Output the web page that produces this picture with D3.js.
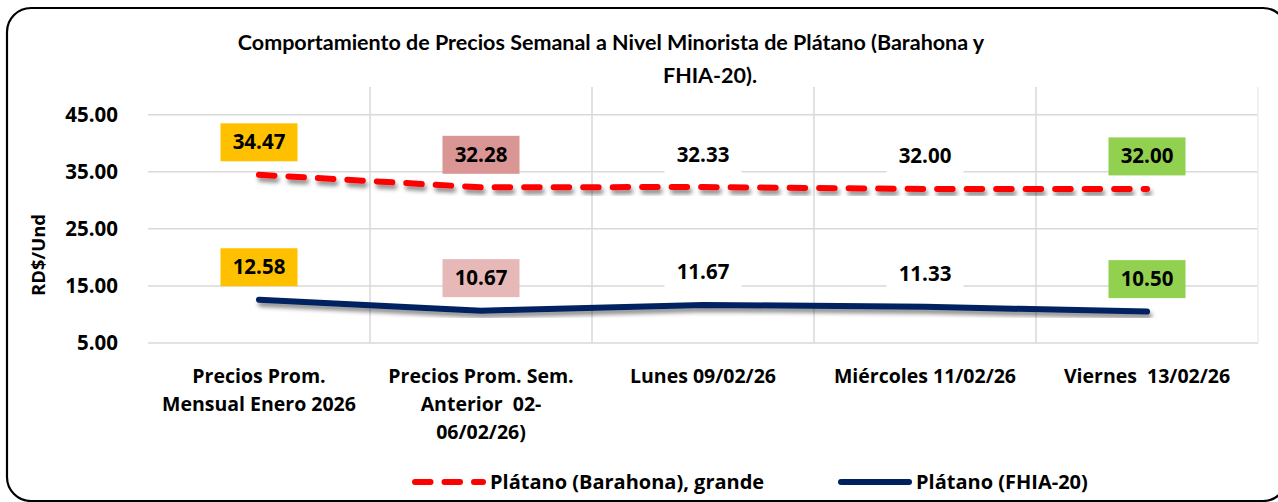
<!DOCTYPE html>
<html>
<head>
<meta charset="utf-8">
<script src="https://cdn.jsdelivr.net/npm/d3@7"></script>
<style>
  body { margin: 0; background: #fff; }
  text { font-family: "Open Sans", Lato, sans-serif; font-weight: bold; fill: #000; white-space: pre; }
  text.title { font-family: Lato, "Open Sans", sans-serif; }
</style>
</head>
<body>
<div id="chart"></div>
<script>
// data
const categories = [
  ["Precios Prom.", "Mensual Enero 2026"],
  ["Precios Prom. Sem.", "Anterior  02-", "06/02/26)"],
  ["Lunes 09/02/26"],
  ["Miércoles 11/02/26"],
  ["Viernes  13/02/26"]
];
const barahona = [34.47, 32.28, 32.33, 32.00, 32.00];
const fhia = [12.58, 10.67, 11.67, 11.33, 10.50];
const yTicks = [5, 15, 25, 35, 45];
const barahonaFills = ["#FFC000", "#DA9694", "#FFFFFF", "#FFFFFF", "#92D050"];
const fhiaFills = ["#FFC000", "#E6B8B7", "#FFFFFF", "#FFFFFF", "#92D050"];
const seriesNames = ["Plátano (Barahona), grande", "Plátano (FHIA-20)"];

const W = 1278, H = 502;
const plot = {left: 148, right: 1258, top: 87, y45: 114.7, bottom: 343};

const svg = d3.select("#chart").append("svg")
  .attr("width", W).attr("height", H);

const defs = svg.append("defs");
const f = defs.append("filter").attr("id", "shadow")
  .attr("x", "-5%").attr("y", "-50%").attr("width", "110%").attr("height", "200%");
f.append("feDropShadow").attr("dx", 2).attr("dy", 4).attr("stdDeviation", 2)
  .attr("flood-color", "#000").attr("flood-opacity", 0.45);

// frame
svg.append("rect")
  .attr("x", 7).attr("y", 8).attr("width", 1280).attr("height", 493)
  .attr("rx", 24).attr("ry", 24)
  .attr("fill", "none").attr("stroke", "#000").attr("stroke-width", 2.2);

var x = d3.scaleBand()
  .domain(d3.range(categories.length))
  .range([plot.left, plot.right]);
var y = d3.scaleLinear()
  .domain([5, 45])
  .range([plot.bottom, plot.y45]);

// gridlines
svg.append("g").selectAll("line")
  .data(yTicks).enter().append("line")
  .attr("x1", plot.left).attr("x2", plot.right)
  .attr("y1", d => y(d)).attr("y2", d => y(d))
  .attr("stroke", "#D9D9D9").attr("stroke-width", 1.5);
svg.append("g").selectAll("line")
  .data(d3.range(1, categories.length + 1)).enter().append("line")
  .attr("x1", d => x.step() * d + plot.left).attr("x2", d => x.step() * d + plot.left)
  .attr("y1", plot.top).attr("y2", plot.bottom)
  .attr("stroke", d => d === categories.length ? "#EDEDED" : "#D9D9D9")
  .attr("stroke-width", 1.5);

// y axis labels
svg.append("g").selectAll("text")
  .data(yTicks).enter().append("text")
  .attr("x", 118).attr("y", d => y(d) + 7)
  .attr("text-anchor", "end")
  .style("font-size", "20.5px")
  .text(d => d.toFixed(2));

svg.append("text")
  .attr("transform", "translate(45,255) rotate(-90)")
  .attr("text-anchor", "middle")
  .style("font-size", "18.5px")
  .text("RD$/Und");

// x axis labels
categories.forEach((lines, i) => {
  const t = svg.append("text")
    .attr("text-anchor", "middle")
    .style("font-size", "19.5px");
  lines.forEach((l, j) => {
    t.append("tspan")
      .attr("x", x(i) + x.bandwidth() / 2)
      .attr("y", 383 + j * 28)
      .text(l);
  });
});

// title
svg.append("text").attr("class", "title").attr("x", 611).attr("y", 50)
  .attr("text-anchor", "middle").style("font-size", "21.5px")
  .text("Comportamiento de Precios Semanal a Nivel Minorista de Plátano (Barahona y");
svg.append("text").attr("class", "title").attr("x", 710).attr("y", 83)
  .attr("text-anchor", "middle").style("font-size", "21.5px")
  .text("FHIA-20).");

const cx = i => x(i) + x.bandwidth() / 2;
const line = d3.line().x((d, i) => cx(i)).y(d => y(d));

svg.append("path").datum(fhia)
  .attr("d", line)
  .attr("fill", "none").attr("stroke", "#002060").attr("stroke-width", 6)
  .attr("stroke-linecap", "round").attr("stroke-linejoin", "round")
  .attr("filter", "url(#shadow)");

svg.append("path").datum(barahona)
  .attr("d", line)
  .attr("fill", "none").attr("stroke", "#FF0000").attr("stroke-width", 6)
  .attr("stroke-dasharray", "15.5,14").attr("stroke-linecap", "round")
  .attr("filter", "url(#shadow)");

// data labels
function labels(data, fills) {
  const g = svg.append("g").selectAll("g")
    .data(data).enter().append("g")
    .attr("transform", (d, i) => "translate(" + cx(i) + "," + (y(d) - 32.5) + ")");
  g.append("rect")
    .attr("x", -38.5).attr("y", -19).attr("width", 77).attr("height", 38)
    .attr("fill", (d, i) => fills[i]);
  g.append("text")
    .attr("text-anchor", "middle").attr("y", 7)
    .style("font-size", "20.5px")
    .text(d => d.toFixed(2));
}
labels(barahona, barahonaFills);
labels(fhia, fhiaFills);

// legend
const leg = svg.append("g");
leg.append("line").attr("x1", 415).attr("x2", 483).attr("y1", 482).attr("y2", 482)
  .attr("stroke", "#FF0000").attr("stroke-width", 6)
  .attr("stroke-dasharray", "15.5,14").attr("stroke-linecap", "round");
leg.append("text").attr("x", 490).attr("y", 489).style("font-size", "20px").text(seriesNames[0]);
leg.append("line").attr("x1", 841).attr("x2", 909).attr("y1", 482).attr("y2", 482)
  .attr("stroke", "#002060").attr("stroke-width", 6).attr("stroke-linecap", "round");
leg.append("text").attr("x", 916).attr("y", 489).style("font-size", "20px").text(seriesNames[1]);
</script>
</body>
</html>
